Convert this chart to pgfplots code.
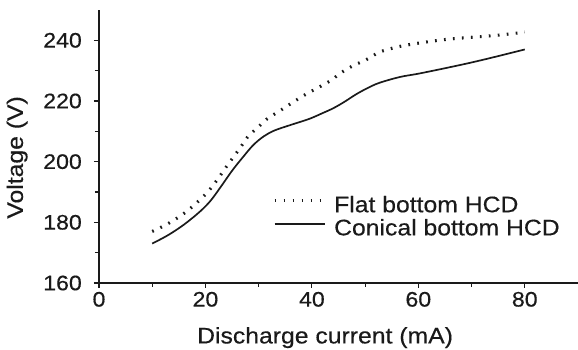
\documentclass[border=0pt]{standalone}
\usepackage{pgfplots}
\pgfplotsset{compat=1.18}
\usepackage{fontspec}
\setmainfont[FakeStretch=1.1, FakeBold=0.4]{Liberation Sans}
\definecolor{ink}{HTML}{1A1A1A}
\begin{document}
\begin{tikzpicture}
\path[use as bounding box] (-99pt,-67pt) rectangle (479pt,283pt);
\begin{axis}[
  at={(0pt,0pt)}, anchor=south west,
  width=479pt, height=273pt, scale only axis,
  xmin=0, xmax=90, ymin=160, ymax=250,
  axis lines=left,
  axis line style={-, line width=1.3pt, ink},
  xtick={0,20,...,80}, minor xtick={10,30,50,70},
  ytick={160,180,...,240}, minor ytick={170,190,...,230},
  tick align=outside,
  major tick length=5pt, minor tick length=4pt,
  every tick/.style={line width=1.1pt, ink},
  /pgf/number format/assume math mode=true,
  tick label style={font=\fontsize{21}{24}\selectfont, text=ink},
  xticklabel style={inner sep=0pt, yshift=-3.7pt},
  yticklabel style={inner sep=0pt, xshift=-12pt},
  xlabel={Discharge current (mA)},
  ylabel={Voltage (V)},
  every axis x label/.style={at={(axis description cs:0.472,-0.2)}, anchor=center, font=\fontsize{22.5}{25}\selectfont, text=ink},
  every axis y label/.style={at={(axis description cs:-0.171,0.46)}, anchor=center, rotate=90, font=\fontsize{22.5}{25}\selectfont, text=ink},
  legend style={draw=none, fill=none, inner sep=0pt, outer sep=0pt,
    at={(axis cs:32.7,188.9)}, anchor=north west,
    font=\fontsize{22.5}{25}\selectfont, text=ink,
    nodes={inner sep=0pt, text height=16.9pt, text depth=5.6pt},
    column sep=8pt, row sep=0.6pt},
  legend cell align=left,
  legend image code/.code={\draw[#1] (0pt,6pt) -- (50pt,6pt);},
  clip=false,
]
\addplot[ink, line width=3.1pt, dash pattern=on 1.7pt off 7.3pt, smooth, tension=0.55] coordinates {
(10,177.0) (13,179.6) (16.4,183.5) (20,189.2) (22,193.5) (24,198.5) (26.5,204.5)
(28,208.3) (30,211.5) (31.5,214.0) (34,216.8) (37.7,221.0) (40,223.3) (43.6,226.8)
(45.2,229.0) (47.7,231.6) (50.2,233.6) (52.7,236.1) (55.8,237.7) (59.4,238.9)
(65.2,240.3) (70,241.0) (75,241.7) (80,242.7)
};
\addlegendentry{Flat bottom HCD}
\addplot[ink, line width=1.7pt, smooth, tension=0.55] coordinates {
(10,173.0) (13,175.8) (16,179.3) (19,183.6) (21,187.2) (23,192.0) (25,197.0)
(27,201.4) (29,205.5) (31,208.4) (33,210.3) (36,212.1) (39.5,214.1) (42,216.0)
(44,217.6) (46,219.6) (48.3,222.2) (50.5,224.3) (52.7,226.0) (56.5,227.9)
(60,229.0) (65,230.8) (70,232.7) (75,234.8) (80,237.0)
};
\addlegendentry{Conical bottom HCD}
\end{axis}
\end{tikzpicture}
\end{document}
